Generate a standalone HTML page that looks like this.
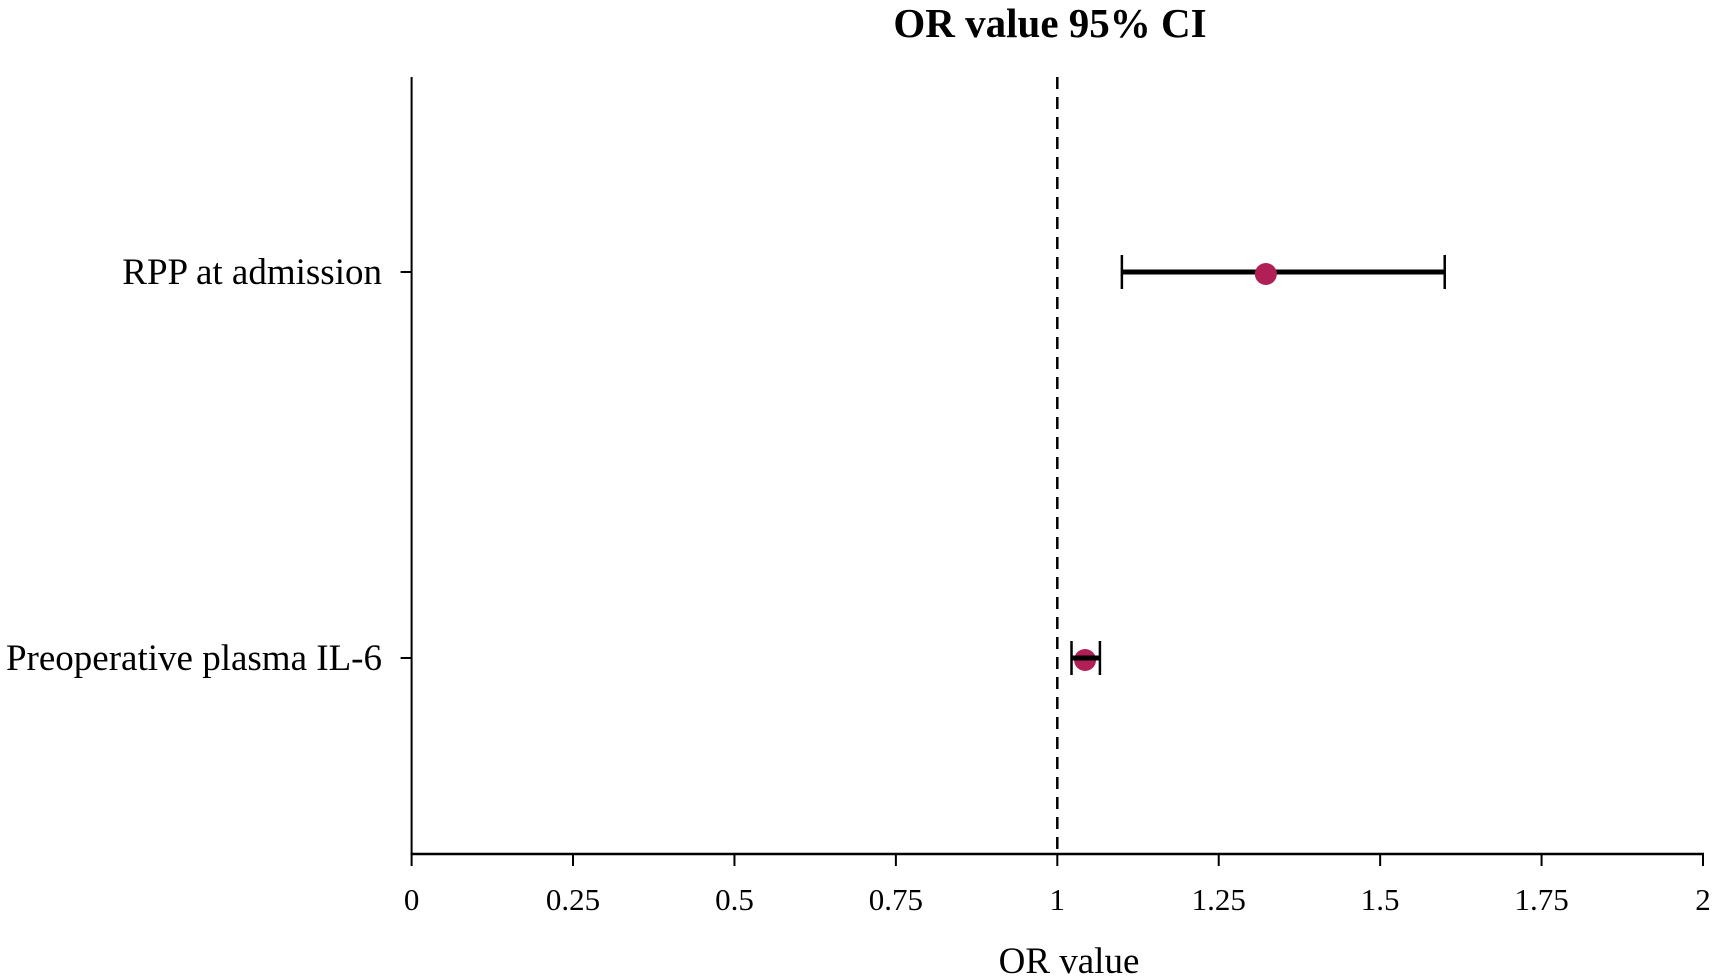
<!DOCTYPE html>
<html><head><meta charset="utf-8"><style>
html,body{margin:0;padding:0;background:#fff;}
svg{display:block;font-family:"Liberation Serif",serif;}
</style></head><body>
<svg id="chart" width="1712" height="980" viewBox="0 0 1712 980" xmlns="http://www.w3.org/2000/svg">
<text x="1050" y="37" text-anchor="middle" font-size="41" font-weight="bold">OR value 95% CI</text>
<text x="1069" y="973" text-anchor="middle" font-size="37">OR value</text>
<g id="plot"></g>
</svg>
<script>
const categories = ["RPP at admission", "Preoperative plasma IL-6"];
const orValues = [1.323, 1.043];
const ciLow = [1.10, 1.022];
const ciHigh = [1.60, 1.066];
const xTicks = [0, 0.25, 0.5, 0.75, 1, 1.25, 1.5, 1.75, 2];
const xTickLabels = ["0", "0.25", "0.5", "0.75", "1", "1.25", "1.5", "1.75", "2"];
const refValue = 1;

const X0 = 411.6, X1 = 1703, YTOP = 77, YAX = 854;
const rowY = [272, 658];
function xs(v){ return X0 + (v - 0) / (2 - 0) * (X1 - X0); }
function ys(i){ return rowY[i]; }
const NS = "http://www.w3.org/2000/svg";
const g = document.getElementById('plot');
function mk(tag, attrs){ const e = document.createElementNS(NS, tag); for (const k in attrs) e.setAttribute(k, attrs[k]); g.appendChild(e); return e; }

let e = mk('line', {x1:X0, y1:YTOP, x2:X0, y2:YAX+1, stroke:'#000', 'stroke-width':2});


e = mk('line', {x1:X0-1, y1:YAX, x2:X1+1, y2:YAX, stroke:'#000', 'stroke-width':2.5});



xTicks.forEach((t, i) => {
  const x = xs(t);
  let tk = mk('line', {x1:x, y1:YAX, x2:x, y2:YAX+12, stroke:'#000', 'stroke-width':2});
  
  
  let lb = mk('text', {x:x, y:910, 'text-anchor':'middle', 'font-size':31});
  lb.textContent = xTickLabels[i];
  
  
});

e = mk('line', {x1:xs(refValue), y1:YTOP, x2:xs(refValue), y2:YAX, stroke:'#000', 'stroke-width':2.5, 'stroke-dasharray':'12 8'});



categories.forEach((c, i) => {
  const y = ys(i);
  let tk = mk('line', {x1:X0-11, y1:y, x2:X0, y2:y, stroke:'#000', 'stroke-width':2});
  
  
  let lb = mk('text', {x:382, y:y+12, 'text-anchor':'end', 'font-size':37});
  lb.textContent = c;
  
  
  let ci = mk('line', {x1:xs(ciLow[i]), y1:y, x2:xs(ciHigh[i]), y2:y, stroke:'#000', 'stroke-width':5});
  
  
  [ciLow[i], ciHigh[i]].forEach(v => {
    let cap = mk('line', {x1:xs(v), y1:y-17, x2:xs(v), y2:y+17, stroke:'#000', 'stroke-width':2.5});
    
    
  });
  let dot = mk('circle', {cx:xs(orValues[i]), cy:y+2, r:11, fill:'#b01f55'});
  
  
  if (i === 1) { let ci2 = mk('line', {x1:xs(ciLow[i]), y1:y, x2:xs(ciHigh[i]), y2:y, stroke:'#000', 'stroke-width':5});
    
     }
});
</script>
</body></html>
